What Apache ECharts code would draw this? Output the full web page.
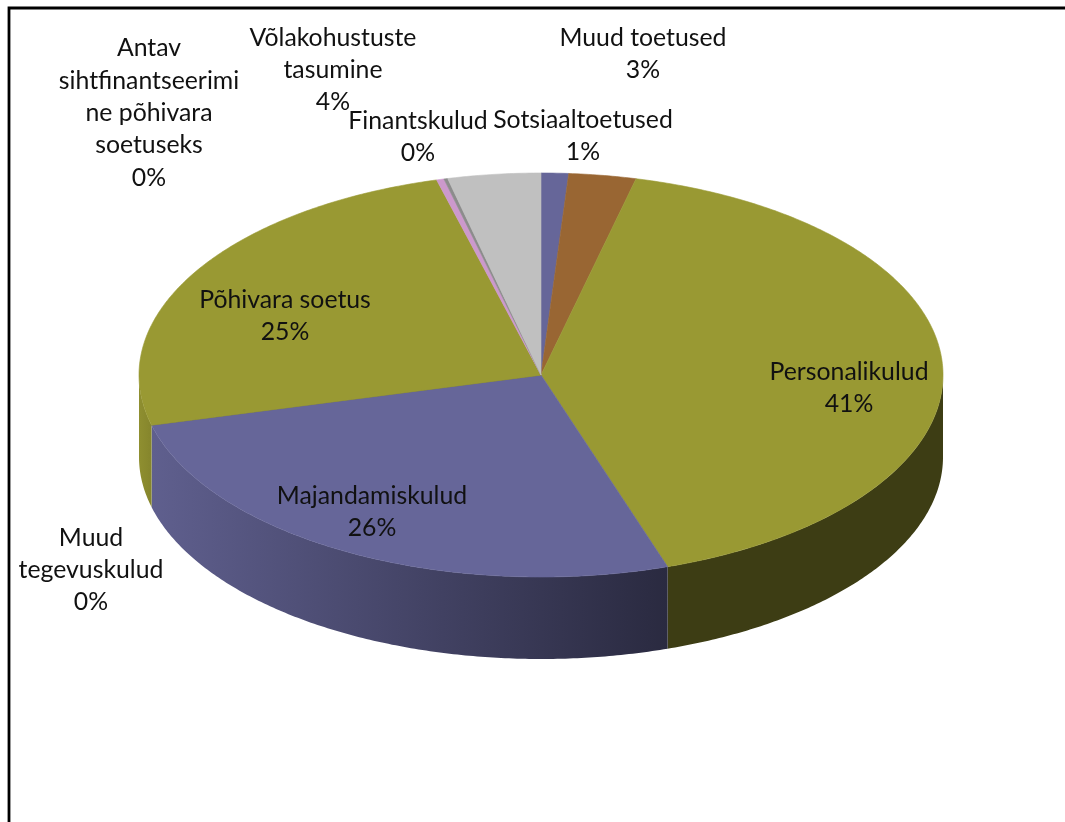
<!DOCTYPE html>
<html>
<head>
<meta charset="utf-8">
<style>
  html, body { margin: 0; padding: 0; background: #fff; }
  #chart { width: 1065px; height: 822px; }
</style>
<script src="https://cdn.jsdelivr.net/npm/echarts@6/dist/echarts.min.js"></script>
</head>
<body>
<div id="chart"></div>
<script>
// clockwise from 12 o'clock
const categories = ['Sotsiaaltoetused', 'Muud toetused', 'Personalikulud', 'Majandamiskulud',
  'Muud tegevuskulud', 'Põhivara soetus', 'Antav sihtfinantseerimine põhivara soetuseks',
  'Finantskulud', 'Võlakohustuste tasumine'];
const values = [1.1, 2.7, 41.1, 26.1, 0.02, 24.8, 0.3, 0.15, 3.73];
const labelLines = [['Sotsiaaltoetused'], ['Muud toetused'], ['Personalikulud'], ['Majandamiskulud'],
  ['Muud', 'tegevuskulud'], ['Põhivara soetus'], ['Antav', 'sihtfinantseerimi', 'ne põhivara', 'soetuseks'],
  ['Finantskulud'], ['Võlakohustuste', 'tasumine']];
const topColors = ['#666699', '#996633', '#999933', '#666699', '#7f7f3a', '#999933', '#cc99cc', '#8c8c8c', '#c0c0c0'];
const sideColors = [
  ['#666699', '#666699'], ['#996633', '#996633'], ['#3d3d14', '#3d3d14'], ['#5f5f8e', '#2a2a40'],
  ['#8f8f30', '#8f8f30'], ['#8f8f30', '#85852c'], ['#cc99cc', '#cc99cc'], ['#8c8c8c', '#8c8c8c'], ['#c0c0c0', '#c0c0c0']
];
// label block centres, placed by hand like in the original
const labelPos = [[583, 136], [643, 54], [849, 388], [372, 512], [91, 570], [285, 316], [149, 113], [418, 137], [333, 70]];

const cx = 541, cy = 375, rx = 402, ry = 202, depth = 82;
const font = '24.8px Lato, "Open Sans", sans-serif';
const total = values.reduce((a, b) => a + b, 0);

function sliceAngles(i) {
  let sum = 0;
  for (let k = 0; k < i; k++) sum += values[k];
  return [sum / total * Math.PI * 2, (sum + values[i]) / total * Math.PI * 2];
}
function pt(a, dy) {
  return [cx + rx * Math.sin(a), cy - ry * Math.cos(a) + (dy || 0)];
}
function arcPoints(a0, a1, dy) {
  const pts = [];
  const n = Math.max(2, Math.ceil((a1 - a0) / 0.01));
  for (let k = 0; k <= n; k++) pts.push(pt(a0 + (a1 - a0) * k / n, dy));
  return pts;
}

function renderSide(params) {
  const i = params.dataIndex;
  const ang = sliceAngles(i);
  // only the front half of the rim can be seen
  const a0 = Math.max(ang[0], Math.PI / 2);
  const a1 = Math.min(ang[1], Math.PI * 1.5);
  if (a1 <= a0) return null;
  const points = arcPoints(a0, a1, 0).concat(arcPoints(a0, a1, depth).reverse());
  return {
    type: 'polygon',
    shape: { points: points },
    style: {
      fill: new echarts.graphic.LinearGradient(0, 0, 1, 0, [
        { offset: 0, color: sideColors[i][0] },
        { offset: 1, color: sideColors[i][1] }
      ])
    }
  };
}

function renderTop(params) {
  const ang = sliceAngles(params.dataIndex);
  const color = topColors[params.dataIndex];
  return {
    type: 'polygon',
    shape: { points: [[cx, cy]].concat(arcPoints(ang[0], ang[1], 0)) },
    // thin stroke hides the seams between neighbouring slices
    style: { fill: color, stroke: color, lineWidth: 0.6 }
  };
}

function renderLabel(params) {
  const i = params.dataIndex;
  const pct = Math.round(values[i] / total * 100) + '%';
  return {
    type: 'text',
    x: labelPos[i][0],
    y: labelPos[i][1],
    style: {
      text: labelLines[i].concat(pct).join('\n'),
      font: font,
      fill: '#111',
      align: 'center',
      verticalAlign: 'middle',
      lineHeight: 32.4
    }
  };
}

const chart = echarts.init(document.getElementById('chart'));
chart.setOption({
  animation: false,
  backgroundColor: '#fff',
  graphic: [{
    type: 'polyline',
    shape: { points: [[9, 822], [9, 8], [1065, 8]] },
    style: { stroke: '#000', lineWidth: 2.8, fill: null }
  }],
  series: [
    { type: 'custom', name: 'side', coordinateSystem: 'none', z: 2, data: values, renderItem: renderSide },
    { type: 'custom', name: 'top', coordinateSystem: 'none', z: 3, data: values, renderItem: renderTop },
    { type: 'custom', name: 'labels', coordinateSystem: 'none', z: 4, data: values, renderItem: renderLabel }
  ]
});
</script>
</body>
</html>
